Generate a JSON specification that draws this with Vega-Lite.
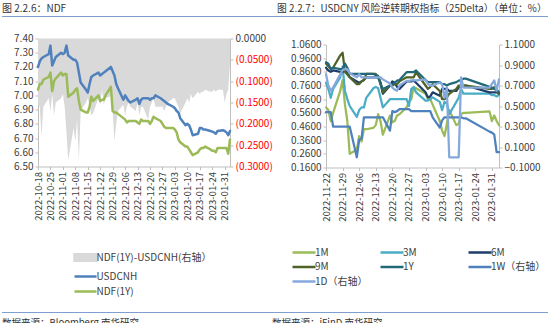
{
  "$schema": "https://vega.github.io/schema/vega-lite/v6.json",
  "padding": {"left": 2, "top": 3, "right": 0, "bottom": 0},
  "background": "white",
  "config": {
    "view": {"stroke": null},
    "font": "Noto Sans CJK SC",
    "axis": {"labelFont": "Noto Sans CJK SC", "labelFontSize": 10, "labelColor": "#404040", "domainColor": "#bfbfbf", "tickColor": "#bfbfbf", "tickSize": 3, "grid": false, "labelPadding": 2},
    "legend": {"labelFont": "Noto Sans CJK SC", "labelFontSize": 10, "labelColor": "#404040"},
    "title": {"font": "Noto Sans CJK SC", "fontSize": 10, "fontWeight": "normal", "color": "#333333"}
  },
  "datasets": {
    "ndf": [
      {"d":"2022-10-18","USDCNH":7.20,"NDF(1Y)":7.04,"NDF(1Y)-USDCNH(右轴）":-0.155},
      {"d":"2022-10-19","USDCNH":7.24,"NDF(1Y)":7.08,"NDF(1Y)-USDCNH(右轴）":-0.16},
      {"d":"2022-10-20","USDCNH":7.26,"NDF(1Y)":7.08,"NDF(1Y)-USDCNH(右轴）":-0.23},
      {"d":"2022-10-21","USDCNH":7.27,"NDF(1Y)":7.11,"NDF(1Y)-USDCNH(右轴）":-0.16},
      {"d":"2022-10-24","USDCNH":7.29,"NDF(1Y)":7.13,"NDF(1Y)-USDCNH(右轴）":-0.14},
      {"d":"2022-10-25","USDCNH":7.35,"NDF(1Y)":7.16,"NDF(1Y)-USDCNH(右轴）":-0.17},
      {"d":"2022-10-26","USDCNH":7.21,"NDF(1Y)":7.03,"NDF(1Y)-USDCNH(右轴）":-0.13},
      {"d":"2022-10-27","USDCNH":7.24,"NDF(1Y)":7.10,"NDF(1Y)-USDCNH(右轴）":-0.18},
      {"d":"2022-10-28","USDCNH":7.27,"NDF(1Y)":7.12,"NDF(1Y)-USDCNH(右轴）":-0.15},
      {"d":"2022-10-31","USDCNH":7.30,"NDF(1Y)":7.16,"NDF(1Y)-USDCNH(右轴）":-0.14},
      {"d":"2022-11-01","USDCNH":7.29,"NDF(1Y)":7.14,"NDF(1Y)-USDCNH(右轴）":-0.13},
      {"d":"2022-11-02","USDCNH":7.30,"NDF(1Y)":7.15,"NDF(1Y)-USDCNH(右轴）":-0.16},
      {"d":"2022-11-03","USDCNH":7.35,"NDF(1Y)":7.15,"NDF(1Y)-USDCNH(右轴）":-0.22},
      {"d":"2022-11-04","USDCNH":7.28,"NDF(1Y)":6.99,"NDF(1Y)-USDCNH(右轴）":-0.285},
      {"d":"2022-11-07","USDCNH":7.25,"NDF(1Y)":7.02,"NDF(1Y)-USDCNH(右轴）":-0.21},
      {"d":"2022-11-08","USDCNH":7.25,"NDF(1Y)":7.04,"NDF(1Y)-USDCNH(右轴）":-0.24},
      {"d":"2022-11-09","USDCNH":7.23,"NDF(1Y)":7.05,"NDF(1Y)-USDCNH(右轴）":-0.19},
      {"d":"2022-11-10","USDCNH":7.16,"NDF(1Y)":6.96,"NDF(1Y)-USDCNH(右轴）":-0.285},
      {"d":"2022-11-11","USDCNH":7.09,"NDF(1Y)":6.90,"NDF(1Y)-USDCNH(右轴）":-0.17},
      {"d":"2022-11-14","USDCNH":7.04,"NDF(1Y)":6.88,"NDF(1Y)-USDCNH(右轴）":-0.15},
      {"d":"2022-11-15","USDCNH":7.02,"NDF(1Y)":6.88,"NDF(1Y)-USDCNH(右轴）":-0.14},
      {"d":"2022-11-16","USDCNH":7.08,"NDF(1Y)":6.92,"NDF(1Y)-USDCNH(右轴）":-0.155},
      {"d":"2022-11-17","USDCNH":7.13,"NDF(1Y)":6.99,"NDF(1Y)-USDCNH(右轴）":-0.18},
      {"d":"2022-11-18","USDCNH":7.14,"NDF(1Y)":6.96,"NDF(1Y)-USDCNH(右轴）":-0.175},
      {"d":"2022-11-21","USDCNH":7.16,"NDF(1Y)":7.00,"NDF(1Y)-USDCNH(右轴）":-0.14},
      {"d":"2022-11-22","USDCNH":7.14,"NDF(1Y)":6.96,"NDF(1Y)-USDCNH(右轴）":-0.155},
      {"d":"2022-11-23","USDCNH":7.15,"NDF(1Y)":6.97,"NDF(1Y)-USDCNH(右轴）":-0.12},
      {"d":"2022-11-24","USDCNH":7.16,"NDF(1Y)":6.97,"NDF(1Y)-USDCNH(右轴）":-0.155},
      {"d":"2022-11-25","USDCNH":7.17,"NDF(1Y)":7.00,"NDF(1Y)-USDCNH(右轴）":-0.14},
      {"d":"2022-11-28","USDCNH":7.20,"NDF(1Y)":7.06,"NDF(1Y)-USDCNH(右轴）":-0.135},
      {"d":"2022-11-29","USDCNH":7.17,"NDF(1Y)":6.89,"NDF(1Y)-USDCNH(右轴）":-0.17},
      {"d":"2022-11-30","USDCNH":7.14,"NDF(1Y)":6.88,"NDF(1Y)-USDCNH(右轴）":-0.24},
      {"d":"2022-12-01","USDCNH":7.08,"NDF(1Y)":6.88,"NDF(1Y)-USDCNH(右轴）":-0.2},
      {"d":"2022-12-02","USDCNH":7.05,"NDF(1Y)":6.87,"NDF(1Y)-USDCNH(右轴）":-0.17},
      {"d":"2022-12-05","USDCNH":6.97,"NDF(1Y)":6.84,"NDF(1Y)-USDCNH(右轴）":-0.155},
      {"d":"2022-12-06","USDCNH":7.00,"NDF(1Y)":6.83,"NDF(1Y)-USDCNH(右轴）":-0.18},
      {"d":"2022-12-07","USDCNH":6.98,"NDF(1Y)":6.81,"NDF(1Y)-USDCNH(右轴）":-0.16},
      {"d":"2022-12-08","USDCNH":6.96,"NDF(1Y)":6.82,"NDF(1Y)-USDCNH(右轴）":-0.15},
      {"d":"2022-12-09","USDCNH":6.95,"NDF(1Y)":6.82,"NDF(1Y)-USDCNH(右轴）":-0.16},
      {"d":"2022-12-12","USDCNH":6.97,"NDF(1Y)":6.82,"NDF(1Y)-USDCNH(右轴）":-0.17},
      {"d":"2022-12-13","USDCNH":6.98,"NDF(1Y)":6.81,"NDF(1Y)-USDCNH(右轴）":-0.15},
      {"d":"2022-12-14","USDCNH":6.94,"NDF(1Y)":6.80,"NDF(1Y)-USDCNH(右轴）":-0.18},
      {"d":"2022-12-15","USDCNH":6.97,"NDF(1Y)":6.83,"NDF(1Y)-USDCNH(右轴）":-0.16},
      {"d":"2022-12-16","USDCNH":6.98,"NDF(1Y)":6.82,"NDF(1Y)-USDCNH(右轴）":-0.16},
      {"d":"2022-12-19","USDCNH":6.98,"NDF(1Y)":6.82,"NDF(1Y)-USDCNH(右轴）":-0.19},
      {"d":"2022-12-20","USDCNH":6.97,"NDF(1Y)":6.80,"NDF(1Y)-USDCNH(右轴）":-0.16},
      {"d":"2022-12-21","USDCNH":6.98,"NDF(1Y)":6.82,"NDF(1Y)-USDCNH(右轴）":-0.15},
      {"d":"2022-12-22","USDCNH":6.98,"NDF(1Y)":6.85,"NDF(1Y)-USDCNH(右轴）":-0.14},
      {"d":"2022-12-23","USDCNH":7.00,"NDF(1Y)":6.84,"NDF(1Y)-USDCNH(右轴）":-0.16},
      {"d":"2022-12-26","USDCNH":6.98,"NDF(1Y)":6.82,"NDF(1Y)-USDCNH(右轴）":-0.16},
      {"d":"2022-12-27","USDCNH":6.97,"NDF(1Y)":6.80,"NDF(1Y)-USDCNH(右轴）":-0.16},
      {"d":"2022-12-28","USDCNH":6.96,"NDF(1Y)":6.78,"NDF(1Y)-USDCNH(右轴）":-0.17},
      {"d":"2022-12-29","USDCNH":6.95,"NDF(1Y)":6.77,"NDF(1Y)-USDCNH(右轴）":-0.16},
      {"d":"2022-12-30","USDCNH":6.94,"NDF(1Y)":6.77,"NDF(1Y)-USDCNH(右轴）":-0.15},
      {"d":"2023-01-02","USDCNH":6.92,"NDF(1Y)":6.77,"NDF(1Y)-USDCNH(右轴）":-0.14},
      {"d":"2023-01-03","USDCNH":6.91,"NDF(1Y)":6.76,"NDF(1Y)-USDCNH(右轴）":-0.14},
      {"d":"2023-01-04","USDCNH":6.89,"NDF(1Y)":6.74,"NDF(1Y)-USDCNH(右轴）":-0.15},
      {"d":"2023-01-05","USDCNH":6.88,"NDF(1Y)":6.69,"NDF(1Y)-USDCNH(右轴）":-0.16},
      {"d":"2023-01-06","USDCNH":6.84,"NDF(1Y)":6.67,"NDF(1Y)-USDCNH(右轴）":-0.175},
      {"d":"2023-01-09","USDCNH":6.79,"NDF(1Y)":6.64,"NDF(1Y)-USDCNH(右轴）":-0.15},
      {"d":"2023-01-10","USDCNH":6.80,"NDF(1Y)":6.64,"NDF(1Y)-USDCNH(右轴）":-0.14},
      {"d":"2023-01-11","USDCNH":6.79,"NDF(1Y)":6.62,"NDF(1Y)-USDCNH(右轴）":-0.15},
      {"d":"2023-01-12","USDCNH":6.76,"NDF(1Y)":6.60,"NDF(1Y)-USDCNH(右轴）":-0.13},
      {"d":"2023-01-13","USDCNH":6.72,"NDF(1Y)":6.58,"NDF(1Y)-USDCNH(右轴）":-0.14},
      {"d":"2023-01-16","USDCNH":6.73,"NDF(1Y)":6.60,"NDF(1Y)-USDCNH(右轴）":-0.125},
      {"d":"2023-01-17","USDCNH":6.77,"NDF(1Y)":6.62,"NDF(1Y)-USDCNH(右轴）":-0.13},
      {"d":"2023-01-18","USDCNH":6.77,"NDF(1Y)":6.63,"NDF(1Y)-USDCNH(右轴）":-0.125},
      {"d":"2023-01-19","USDCNH":6.76,"NDF(1Y)":6.63,"NDF(1Y)-USDCNH(右轴）":-0.125},
      {"d":"2023-01-20","USDCNH":6.76,"NDF(1Y)":6.64,"NDF(1Y)-USDCNH(右轴）":-0.12},
      {"d":"2023-01-23","USDCNH":6.75,"NDF(1Y)":6.62,"NDF(1Y)-USDCNH(右轴）":-0.125},
      {"d":"2023-01-24","USDCNH":6.745,"NDF(1Y)":6.61,"NDF(1Y)-USDCNH(右轴）":-0.125},
      {"d":"2023-01-25","USDCNH":6.74,"NDF(1Y)":6.61,"NDF(1Y)-USDCNH(右轴）":-0.12},
      {"d":"2023-01-26","USDCNH":6.73,"NDF(1Y)":6.60,"NDF(1Y)-USDCNH(右轴）":-0.125},
      {"d":"2023-01-27","USDCNH":6.75,"NDF(1Y)":6.63,"NDF(1Y)-USDCNH(右轴）":-0.12},
      {"d":"2023-01-30","USDCNH":6.755,"NDF(1Y)":6.63,"NDF(1Y)-USDCNH(右轴）":-0.12},
      {"d":"2023-01-31","USDCNH":6.75,"NDF(1Y)":6.63,"NDF(1Y)-USDCNH(右轴）":-0.15},
      {"d":"2023-02-01","USDCNH":6.74,"NDF(1Y)":6.63,"NDF(1Y)-USDCNH(右轴）":-0.13},
      {"d":"2023-02-02","USDCNH":6.72,"NDF(1Y)":6.59,"NDF(1Y)-USDCNH(右轴）":-0.12},
      {"d":"2023-02-03","USDCNH":6.75,"NDF(1Y)":6.69,"NDF(1Y)-USDCNH(右轴）":-0.06}
    ],
    "rr": [
      {"d":"2022-11-22","1M":0.60,"3M":0.78,"6M":0.89,"9M":0.92,"1Y":0.93,"1W（右轴）":0.44,"1D（右轴）":0.81},
      {"d":"2022-11-23","1M":0.58,"3M":0.735,"6M":0.87,"9M":0.90,"1Y":0.92,"1W（右轴）":0.44,"1D（右轴）":0.70},
      {"d":"2022-11-24","1M":0.50,"3M":0.67,"6M":0.86,"9M":0.88,"1Y":0.88,"1W（右轴）":0.44,"1D（右轴）":0.65},
      {"d":"2022-11-25","1M":0.56,"3M":0.735,"6M":0.87,"9M":0.89,"1Y":0.89,"1W（右轴）":0.30,"1D（右轴）":0.68},
      {"d":"2022-11-28","1M":0.72,"3M":0.82,"6M":0.86,"9M":0.98,"1Y":0.88,"1W（右轴）":0.30,"1D（右轴）":0.81},
      {"d":"2022-11-29","1M":0.80,"3M":0.90,"6M":0.86,"9M":1.00,"1Y":0.88,"1W（右轴）":0.30,"1D（右轴）":0.85},
      {"d":"2022-11-30","1M":0.62,"3M":0.72,"6M":0.87,"9M":0.86,"1Y":0.92,"1W（右轴）":0.30,"1D（右轴）":0.86},
      {"d":"2022-12-01","1M":0.50,"3M":0.66,"6M":0.85,"9M":0.84,"1Y":0.89,"1W（右轴）":0.30,"1D（右轴）":0.86},
      {"d":"2022-12-02","1M":0.26,"3M":0.61,"6M":0.82,"9M":0.82,"1Y":0.845,"1W（右轴）":0.30,"1D（右轴）":0.82},
      {"d":"2022-12-05","1M":0.29,"3M":0.53,"6M":0.79,"9M":0.77,"1Y":0.845,"1W（右轴）":0.0,"1D（右轴）":0.78},
      {"d":"2022-12-06","1M":0.39,"3M":0.58,"6M":0.78,"9M":0.77,"1Y":0.845,"1W（右轴）":0.17,"1D（右轴）":0.81},
      {"d":"2022-12-07","1M":0.35,"3M":0.60,"6M":0.79,"9M":0.79,"1Y":0.845,"1W（右轴）":0.18,"1D（右轴）":0.78},
      {"d":"2022-12-08","1M":0.44,"3M":0.60,"6M":0.80,"9M":0.80,"1Y":0.845,"1W（右轴）":0.39,"1D（右轴）":0.78},
      {"d":"2022-12-09","1M":0.44,"3M":0.67,"6M":0.82,"9M":0.845,"1Y":0.845,"1W（右轴）":0.39,"1D（右轴）":0.78},
      {"d":"2022-12-12","1M":0.45,"3M":0.74,"6M":0.82,"9M":0.845,"1Y":0.845,"1W（右轴）":0.39,"1D（右轴）":0.78},
      {"d":"2022-12-13","1M":0.47,"3M":0.75,"6M":0.82,"9M":0.845,"1Y":0.835,"1W（右轴）":0.39,"1D（右轴）":0.78},
      {"d":"2022-12-14","1M":0.55,"3M":0.74,"6M":0.82,"9M":0.82,"1Y":0.83,"1W（右轴）":0.39,"1D（右轴）":0.78},
      {"d":"2022-12-15","1M":0.50,"3M":0.67,"6M":0.78,"9M":0.78,"1Y":0.77,"1W（右轴）":0.39,"1D（右轴）":0.78},
      {"d":"2022-12-16","1M":0.40,"3M":0.60,"6M":0.70,"9M":0.71,"1Y":0.735,"1W（右轴）":0.39,"1D（右轴）":0.76},
      {"d":"2022-12-19","1M":0.54,"3M":0.66,"6M":0.76,"9M":0.76,"1Y":0.76,"1W（右轴）":0.26,"1D（右轴）":0.72},
      {"d":"2022-12-20","1M":0.49,"3M":0.66,"6M":0.79,"9M":0.76,"1Y":0.77,"1W（右轴）":0.45,"1D（右轴）":0.68},
      {"d":"2022-12-21","1M":0.50,"3M":0.66,"6M":0.78,"9M":0.77,"1Y":0.78,"1W（右轴）":0.44,"1D（右轴）":0.66},
      {"d":"2022-12-22","1M":0.54,"3M":0.66,"6M":0.75,"9M":0.77,"1Y":0.796,"1W（右轴）":0.45,"1D（右轴）":0.65},
      {"d":"2022-12-23","1M":0.55,"3M":0.66,"6M":0.735,"9M":0.79,"1Y":0.80,"1W（右轴）":0.47,"1D（右轴）":0.70},
      {"d":"2022-12-26","1M":0.60,"3M":0.66,"6M":0.79,"9M":0.82,"1Y":0.857,"1W（右轴）":0.47,"1D（右轴）":0.745},
      {"d":"2022-12-27","1M":0.64,"3M":0.61,"6M":0.79,"9M":0.82,"1Y":0.857,"1W（右轴）":0.47,"1D（右轴）":0.745},
      {"d":"2022-12-28","1M":0.66,"3M":0.735,"6M":0.79,"9M":0.82,"1Y":0.857,"1W（右轴）":0.45,"1D（右轴）":0.75},
      {"d":"2022-12-29","1M":0.75,"3M":0.747,"6M":0.796,"9M":0.82,"1Y":0.857,"1W（右轴）":0.45,"1D（右轴）":0.75},
      {"d":"2022-12-30","1M":0.74,"3M":0.71,"6M":0.78,"9M":0.857,"1Y":0.87,"1W（右轴）":0.45,"1D（右轴）":0.75},
      {"d":"2023-01-03","1M":0.70,"3M":0.65,"6M":0.71,"9M":0.76,"1Y":0.80,"1W（右轴）":0.45,"1D（右轴）":0.76},
      {"d":"2023-01-04","1M":0.66,"3M":0.65,"6M":0.673,"9M":0.735,"1Y":0.785,"1W（右轴）":0.45,"1D（右轴）":0.715},
      {"d":"2023-01-05","1M":0.66,"3M":0.66,"6M":0.68,"9M":0.75,"1Y":0.785,"1W（右轴）":0.45,"1D（右轴）":0.70},
      {"d":"2023-01-06","1M":0.62,"3M":0.673,"6M":0.71,"9M":0.77,"1Y":0.785,"1W（右轴）":0.39,"1D（右轴）":0.70},
      {"d":"2023-01-09","1M":0.50,"3M":0.64,"6M":0.685,"9M":0.72,"1Y":0.785,"1W（右轴）":0.29,"1D（右轴）":0.73},
      {"d":"2023-01-10","1M":0.43,"3M":0.58,"6M":0.735,"9M":0.66,"1Y":0.77,"1W（右轴）":0.36,"1D（右轴）":0.715},
      {"d":"2023-01-11","1M":0.39,"3M":0.64,"6M":0.735,"9M":0.66,"1Y":0.77,"1W（右轴）":0.39,"1D（右轴）":0.58},
      {"d":"2023-01-12","1M":0.48,"3M":0.63,"6M":0.735,"9M":0.673,"1Y":0.76,"1W（右轴）":0.39,"1D（右轴）":0.68},
      {"d":"2023-01-13","1M":0.58,"3M":0.55,"6M":0.72,"9M":0.70,"1Y":0.77,"1W（右轴）":0.39,"1D（右轴）":0.0},
      {"d":"2023-01-16","1M":0.47,"3M":0.64,"6M":0.72,"9M":0.735,"1Y":0.785,"1W（右轴）":0.39,"1D（右轴）":0.0},
      {"d":"2023-01-17","1M":0.48,"3M":0.67,"6M":0.747,"9M":0.76,"1Y":0.796,"1W（右轴）":0.39,"1D（右轴）":0.0},
      {"d":"2023-01-18","1M":0.55,"3M":0.735,"6M":0.75,"9M":0.76,"1Y":0.80,"1W（右轴）":0.39,"1D（右轴）":0.78},
      {"d":"2023-01-19","1M":0.56,"3M":0.70,"6M":0.76,"9M":0.76,"1Y":0.81,"1W（右轴）":0.38,"1D（右轴）":0.68},
      {"d":"2023-01-20","1M":0.56,"3M":0.70,"6M":0.76,"9M":0.76,"1Y":0.81,"1W（右轴）":0.38,"1D（右轴）":0.68},
      {"d":"2023-01-30","1M":0.57,"3M":0.70,"6M":0.71,"9M":0.735,"1Y":0.75,"1W（右轴）":0.25,"1D（右轴）":0.68},
      {"d":"2023-01-31","1M":0.50,"3M":0.69,"6M":0.71,"9M":0.735,"1Y":0.745,"1W（右轴）":0.24,"1D（右轴）":0.715},
      {"d":"2023-02-01","1M":0.54,"3M":0.69,"6M":0.71,"9M":0.747,"1Y":0.735,"1W（右轴）":0.22,"1D（右轴）":0.75},
      {"d":"2023-02-02","1M":0.50,"3M":0.68,"6M":0.71,"9M":0.72,"1Y":0.73,"1W（右轴）":0.05,"1D（右轴）":0.65},
      {"d":"2023-02-03","1M":0.47,"3M":0.69,"6M":0.70,"9M":0.70,"1Y":0.71,"1W（右轴）":0.05,"1D（右轴）":0.76}
    ]
  },
  "vconcat": [
    {
      "vconcat": [
        {
          "hconcat": [
            {"width": 275, "height": 1, "data": {"values": [{"a": 0}]}, "view": {"fill": "#7f9fcf", "stroke": null},
             "mark": {"type": "point", "opacity": 0},
             "encoding": {"x": {"field": "a", "type": "quantitative", "axis": {"orient": "top", "domainColor": "#7f9fcf", "domainWidth": 1.2, "ticks": false, "labels": false, "title": null, "grid": false}}},
             "title": {"text": "图 2.2.6：NDF", "anchor": "start", "offset": 0, "fontSize": 10}},
            {"width": 271, "height": 1, "data": {"values": [{"a": 0}]}, "view": {"fill": "#7f9fcf", "stroke": null},
             "mark": {"type": "point", "opacity": 0},
             "encoding": {"x": {"field": "a", "type": "quantitative", "axis": {"orient": "top", "domainColor": "#7f9fcf", "domainWidth": 1.2, "ticks": false, "labels": false, "title": null, "grid": false}}},
             "title": {"text": "图 2.2.7：USDCNY 风险逆转期权指标（25Delta）（单位：%）", "anchor": "start", "offset": 0, "fontSize": 9.8}}
          ],
          "spacing": 0,
          "resolve": {"scale": {"x": "independent"}}
        },
        {
          "hconcat": [
            {"width": 0.01, "height": 0.01, "data": {"values": []}, "mark": "point"},
            {
              "width": 192, "height": 128,
              "data": {"name": "ndf"},
              "transform": [{"fold": ["NDF(1Y)-USDCNH(右轴）", "USDCNH", "NDF(1Y)"], "as": ["s", "v"]}],
              "encoding": {
                "x": {"field": "d", "type": "temporal",
                  "scale": {"type": "utc", "domain": [{"year": 2022, "month": 10, "date": 18, "utc": true}, {"year": 2023, "month": 2, "date": 3, "utc": true}]},
                  "axis": {"title": null, "labelAngle": -90, "format": "%Y-%m-%d", "labelFontSize": 9.5, "labelOverlap": false, "labelBound": false, "labelFlush": false,
                    "values": [
                      {"year": 2022, "month": 10, "date": 18, "utc": true}, {"year": 2022, "month": 10, "date": 25, "utc": true},
                      {"year": 2022, "month": 11, "date": 1, "utc": true}, {"year": 2022, "month": 11, "date": 8, "utc": true},
                      {"year": 2022, "month": 11, "date": 15, "utc": true}, {"year": 2022, "month": 11, "date": 22, "utc": true},
                      {"year": 2022, "month": 11, "date": 29, "utc": true}, {"year": 2022, "month": 12, "date": 6, "utc": true},
                      {"year": 2022, "month": 12, "date": 13, "utc": true}, {"year": 2022, "month": 12, "date": 20, "utc": true},
                      {"year": 2022, "month": 12, "date": 27, "utc": true}, {"year": 2023, "month": 1, "date": 3, "utc": true},
                      {"year": 2023, "month": 1, "date": 10, "utc": true}, {"year": 2023, "month": 1, "date": 17, "utc": true},
                      {"year": 2023, "month": 1, "date": 24, "utc": true}, {"year": 2023, "month": 1, "date": 31, "utc": true}
                    ]}},
                "color": {"field": "s", "type": "nominal",
                  "scale": {"domain": ["NDF(1Y)-USDCNH(右轴）", "USDCNH", "NDF(1Y)"], "range": ["#d9d9d9", "#4f81bd", "#9bbb59"]},
                  "legend": {"title": null, "orient": "none", "legendX": 40.5, "legendY": 212, "direction": "vertical", "padding": 0,
                    "symbolType": "M-2,0H2", "symbolSize": 121, "symbolStrokeWidth": 2.5, "rowPadding": 3, "labelOffset": 4,
                    "encode": {"symbols": {"update": {
                      "opacity": {"value": 1},
                      "shape": {"signal": "datum.value === 'NDF(1Y)-USDCNH(右轴）' ? 'M-2,-0.6H2V0.6H-2Z' : 'M-2,0H2'"},
                      "fill": {"signal": "datum.value === 'NDF(1Y)-USDCNH(右轴）' ? '#d9d9d9' : 'transparent'"},
                      "stroke": {"signal": "datum.value === 'USDCNH' ? '#4f81bd' : datum.value === 'NDF(1Y)' ? '#9bbb59' : 'transparent'"},
                      "strokeWidth": {"value": 2.5}
                    }}}}}
              },
              "layer": [
                {
                  "transform": [{"filter": {"field": "s", "oneOf": ["NDF(1Y)-USDCNH(右轴）"]}}],
                  "mark": {"type": "area", "opacity": 1},
                  "encoding": {
                    "y": {"field": "v", "type": "quantitative", "scale": {"domain": [-0.3, 0], "nice": false, "zero": false},
                      "axis": {"orient": "right", "title": null, "values": [0, -0.05, -0.1, -0.15, -0.2, -0.25, -0.3], "minExtent": 40,
                        "labelExpr": "datum.value < -0.0001 ? '(' + format(-datum.value, '.4f') + ')' : format(0, '.4f')",
                        "labelColor": {"condition": {"test": "datum.value < -0.0001", "value": "#ff0000"}, "value": "#404040"}}},
                    "y2": {"datum": 0}
                  }
                },
                {
                  "transform": [{"filter": {"field": "s", "oneOf": ["USDCNH", "NDF(1Y)"]}}],
                  "mark": {"type": "line", "strokeWidth": 2.5, "strokeJoin": "round", "strokeCap": "round"},
                  "encoding": {
                    "y": {"field": "v", "type": "quantitative", "scale": {"domain": [6.5, 7.4], "nice": false, "zero": false},
                      "axis": {"orient": "left", "title": null, "values": [6.5, 6.6, 6.7, 6.8, 6.9, 7.0, 7.1, 7.2, 7.3, 7.4], "format": ".2f", "minExtent": 34.5}}
                  }
                }
              ],
              "resolve": {"scale": {"y": "independent"}}
            },
            {
              "vconcat": [
                {"width": 1, "height": 0.01, "data": {"values": []}, "mark": "point"},
                {
                  "width": 173, "height": 123,
                  "data": {"name": "rr"},
                  "transform": [{"fold": ["1M", "3M", "6M", "9M", "1Y", "1W（右轴）", "1D（右轴）"], "as": ["s", "v"]}],
                  "encoding": {
                    "x": {"field": "d", "type": "temporal",
                      "scale": {"type": "utc", "domain": [{"year": 2022, "month": 11, "date": 22, "utc": true}, {"year": 2023, "month": 2, "date": 3, "utc": true}]},
                      "axis": {"title": null, "labelAngle": -90, "format": "%Y-%m-%d", "labelFontSize": 9.5, "labelOverlap": false, "labelBound": false, "labelFlush": false,
                        "values": [
                          {"year": 2022, "month": 11, "date": 22, "utc": true}, {"year": 2022, "month": 11, "date": 29, "utc": true},
                          {"year": 2022, "month": 12, "date": 6, "utc": true}, {"year": 2022, "month": 12, "date": 13, "utc": true},
                          {"year": 2022, "month": 12, "date": 20, "utc": true}, {"year": 2022, "month": 12, "date": 27, "utc": true},
                          {"year": 2023, "month": 1, "date": 3, "utc": true}, {"year": 2023, "month": 1, "date": 10, "utc": true},
                          {"year": 2023, "month": 1, "date": 17, "utc": true}, {"year": 2023, "month": 1, "date": 24, "utc": true},
                          {"year": 2023, "month": 1, "date": 31, "utc": true}
                        ]}},
                    "color": {"field": "s", "type": "nominal",
                      "scale": {"domain": ["1M", "3M", "6M", "9M", "1Y", "1W（右轴）", "1D（右轴）"],
                                "range": ["#9bbb59", "#4bacc6", "#1f3d6b", "#4f6228", "#23687a", "#4f81bd", "#86a9dc"]},
                      "legend": {"title": null, "orient": "none", "legendX": -29, "legendY": 207, "direction": "horizontal", "columns": 3, "gridAlign": "all", "padding": 0,
                        "columnPadding": 5, "rowPadding": 2.5, "symbolType": "M-2,0H2", "symbolSize": 132, "symbolStrokeWidth": 2.5, "labelOffset": 4,
                        "encode": {"symbols": {"update": {"fill": {"value": "transparent"}, "opacity": {"value": 1}}}}}}
                  },
                  "layer": [
                    {
                      "transform": [{"filter": {"field": "s", "oneOf": ["1M", "3M", "6M", "9M", "1Y"]}}],
                      "mark": {"type": "line", "strokeWidth": 2.25, "strokeJoin": "round", "strokeCap": "round"},
                      "encoding": {
                        "y": {"field": "v", "type": "quantitative", "scale": {"domain": [0.16, 1.06], "nice": false, "zero": false},
                          "axis": {"orient": "left", "title": null, "values": [0.16, 0.26, 0.36, 0.46, 0.56, 0.66, 0.76, 0.86, 0.96, 1.06], "format": ".4f", "minExtent": 53}}
                      }
                    },
                    {
                      "transform": [{"filter": {"field": "s", "oneOf": ["1W（右轴）", "1D（右轴）"]}}],
                      "mark": {"type": "line", "strokeWidth": 2.25, "strokeJoin": "round", "strokeCap": "round"},
                      "encoding": {
                        "y": {"field": "v", "type": "quantitative", "scale": {"domain": [-0.1, 1.1], "nice": false, "zero": false},
                          "axis": {"orient": "right", "title": null, "values": [-0.1, 0.1, 0.3, 0.5, 0.7, 0.9, 1.1], "format": ".4f"}}
                      }
                    }
                  ],
                  "resolve": {"scale": {"y": "independent"}}
                }
              ],
              "spacing": 0
            }
          ],
          "spacing": 0,
          "resolve": {"scale": {"color": "independent"}, "legend": {"color": "independent"}}
        }
      ],
      "spacing": 13.5
    },
    {
      "hconcat": [
        {"width": 270, "height": 1, "data": {"values": [{"a": 0}]}, "view": {"fill": "#7f9fcf", "stroke": null},
         "mark": {"type": "point", "opacity": 0},
         "encoding": {"x": {"field": "a", "type": "quantitative", "axis": {"orient": "top", "domainColor": "#7f9fcf", "domainWidth": 1.2, "ticks": false, "labels": false, "title": null, "grid": false}}},
         "title": {"text": "数据来源：Bloomberg 南华研究", "orient": "bottom", "anchor": "start", "offset": 3, "fontSize": 9.5}},
        {"width": 276, "height": 1, "data": {"values": [{"a": 0}]}, "view": {"fill": "#7f9fcf", "stroke": null},
         "mark": {"type": "point", "opacity": 0},
         "encoding": {"x": {"field": "a", "type": "quantitative", "axis": {"orient": "top", "domainColor": "#7f9fcf", "domainWidth": 1.2, "ticks": false, "labels": false, "title": null, "grid": false}}},
         "title": {"text": "数据来源：iFinD 南华研究", "orient": "bottom", "anchor": "start", "offset": 3, "fontSize": 9.5}}
      ],
      "spacing": 0,
      "resolve": {"scale": {"x": "independent"}}
    }
  ],
  "spacing": 12
}
